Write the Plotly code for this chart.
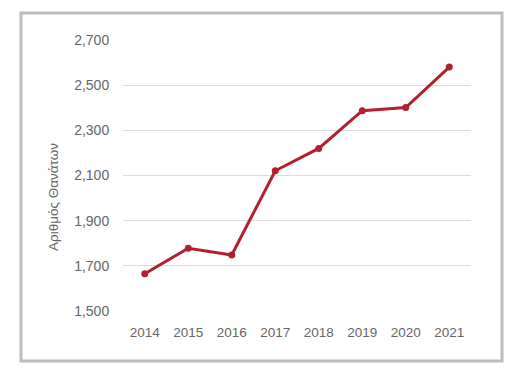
import plotly.graph_objects as go

years = ["2014", "2015", "2016", "2017", "2018", "2019", "2020", "2021"]
deaths = [1665, 1778, 1748, 2121, 2220, 2387, 2401, 2580]
y_ticks = [1500, 1700, 1900, 2100, 2300, 2500, 2700]
y_title = "Αριθμός Θανάτων"

# page has an 8px body margin; figure drawn at 517x362 so it fits the 525x370 window
OFF = 8
W, H = 525 - OFF, 370 - OFF
L, T = 123 - OFF, 40 - OFF
R = W - (471 - OFF)
B = H - (311 - OFF)
pw, ph = W - L - R, H - T - B

def px_x(x):  # page px -> paper
    return (x - OFF - L) / pw

def px_y(y):
    return (H - B - (y - OFF)) / ph

fig = go.Figure()
fig.add_trace(go.Scatter(
    x=years, y=deaths, mode="lines+markers",
    line=dict(color="#b0202e", width=3),
    marker=dict(color="#b0202e", size=7),
    showlegend=False,
))

fig.add_shape(type="rect", xref="paper", yref="paper",
              x0=px_x(21), x1=px_x(502), y0=px_y(361), y1=px_y(13),
              line=dict(color="#bdbdbd", width=3), fillcolor="rgba(0,0,0,0)")

fig.add_annotation(text=y_title, xref="paper", yref="paper",
                   x=px_x(54), y=px_y(197), textangle=-90, showarrow=False,
                   xanchor="center", yanchor="middle",
                   font=dict(size=13.5, color="#666666"))

fig.update_layout(
    width=W, height=H,
    margin=dict(l=L, r=R, t=T, b=B),
    paper_bgcolor="white", plot_bgcolor="white",
    font=dict(family="Liberation Sans, Arial, sans-serif", color="#666666", size=13),
    xaxis=dict(type="category", showgrid=False, zeroline=False, showline=False,
               ticks="outside", ticklen=9, tickcolor="rgba(0,0,0,0)",
               range=[-0.5, 7.5], tickfont=dict(size=13.5, color="#666666")),
    yaxis=dict(range=[1500, 2700], tickvals=y_ticks, tickformat=",d",
               showgrid=True, gridcolor="#dcdcdc", gridwidth=1, zeroline=False,
               showline=False, ticks="outside", ticklen=10, tickcolor="rgba(0,0,0,0)",
               tickfont=dict(size=14, color="#666666")),
)

fig.write_html("out.html")
